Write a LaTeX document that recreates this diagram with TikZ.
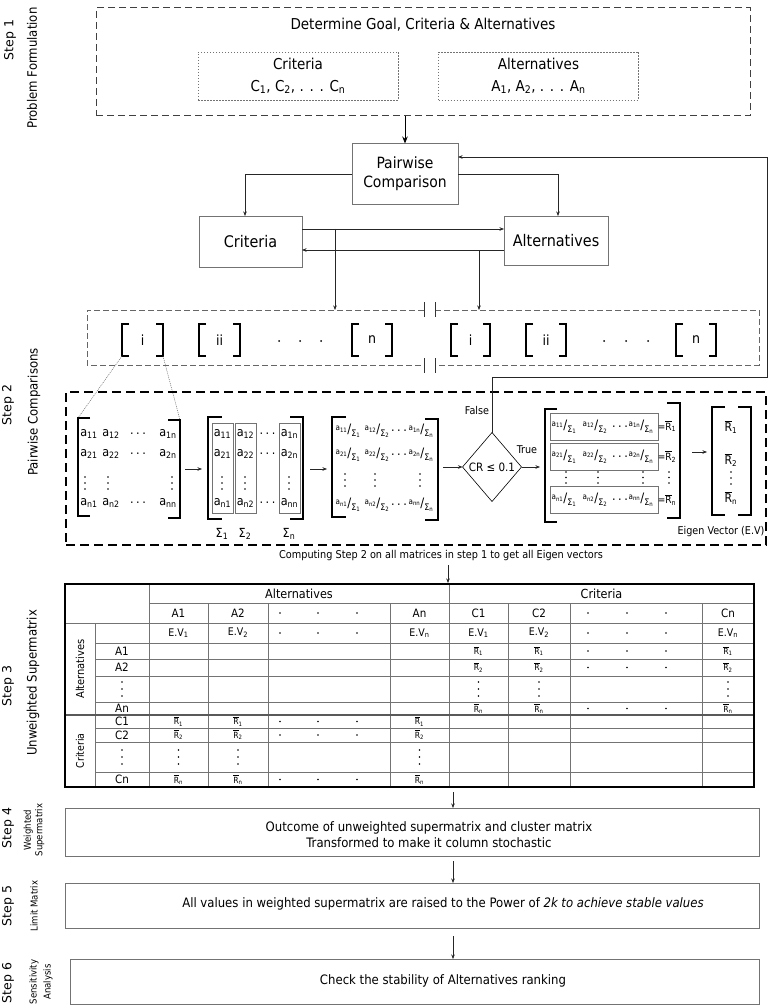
\documentclass[tikz,border=0pt]{standalone}
\usepackage{fontspec}
\setmainfont{DejaVu Sans Condensed}
\newfontfamily\vfont{DejaVu Sans}
\usetikzlibrary{arrows.meta,shapes.geometric,calc}
\newcommand\fsz[1]{\fontsize{#1}{#1}\selectfont}
\newcommand\fszl[2]{\fontsize{#1}{#2}\selectfont}
\newcommand\Rb[1]{$\overline{\hbox{R}}$\textsubscript{#1}}
\newcommand\afr[2]{\raisebox{3pt}{\fsz{8}a\textsubscript{#1}}{\fsz{13}/}\raisebox{-3pt}{\fsz{9}Σ\textsubscript{#2}}}
\newcommand\hd{.\kern2.5pt.\kern2.5pt.}
\newcommand\LB[4]{\draw[brk] ({#1+#4},#2) -- (#1,#2) -- (#1,#3) -- ({#1+#4},#3);}
\newcommand\RB[4]{\draw[brk] ({#1-#4},#2) -- (#1,#2) -- (#1,#3) -- ({#1-#4},#3);}
\newcommand\vdd[3]{\fill (#1,#2) circle (0.8pt) (#1,{#2+#3}) circle (0.8pt) (#1,{#2+2*#3}) circle (0.8pt);}
\newcommand\grp[4]{\draw[brk] ({#1+7},324) -- (#1,324) -- (#1,356) -- ({#1+7},356);
  \draw[brk] ({#2-7},324) -- (#2,324) -- (#2,356) -- ({#2-7},356);
  \node[font=\fsz{14}] (#4) at ({(#1+#2)/2},340) {#3};}
\begin{document}
\begin{tikzpicture}[x=1pt,y=-1pt,
  every node/.style={inner sep=0pt,outer sep=0pt},
  steplbl/.style={rotate=90,font=\vfont\fsz{12.5}},
  sublbl/.style={rotate=90,font=\fszl{13}{13},align=center},
  gbox/.style={draw=black!55,line width=0.8pt,fill=white},
  dashA/.style={draw=black!75,line width=1pt,dash pattern=on 7pt off 4pt},
  dotbox/.style={draw=black!55,line width=0.6pt,dash pattern=on 1.5pt off 1.5pt},
  dashB/.style={draw=black!60,line width=0.8pt,dash pattern=on 6pt off 3pt},
  dashC/.style={draw=black,line width=1.2pt,dash pattern=on 9pt off 5pt},
  ar/.style={-{Stealth[length=4.5pt,width=3.5pt]},line width=0.5pt,draw=black!85},
  bigar/.style={-{Stealth[length=7pt,width=5.5pt]},line width=0.8pt,draw=black},
  thinl/.style={line width=0.6pt,draw=black!80},
  brk/.style={line width=2.8pt,line cap=butt},
  dotl/.style={line width=0.5pt,draw=black!60,dash pattern=on 1pt off 1pt},
  colbox/.style={draw=black!55,line width=0.6pt},
  grid/.style={line width=0.6pt,draw=black!55},
  me/.style={font=\fsz{12.5}},
  th/.style={font=\fsz{12.5}},
  tc/.style={font=\fsz{11.5}},
  tr/.style={font=\fsz{8.5}},
]
\useasboundingbox (0,0) rectangle (768,1008);

% ---------------- left labels
\node[steplbl] (s1) at (10,40) {Step 1};
\node[sublbl] (s1b) at (32,68) {Problem Formulation};
\node[steplbl] (s2) at (8,405) {Step 2};
\node[sublbl] (s2b) at (34,412) {Pairwise Comparisons};
\node[steplbl] (s3) at (8,686) {Step 3};
\node[sublbl] (s3b) at (33,683) {Unweighted Supermatrix};
\node[steplbl] (s4) at (8,828) {Step 4};
\node[sublbl,font=\fszl{9.5}{11.5}] (s4b) at (34,830) {Weighted\\Supermatrix};
\node[steplbl] (s5) at (8,906) {Step 5};
\node[sublbl,font=\fsz{9.5}] (s5b) at (34,906) {Limit Matrix};
\node[steplbl] (s6) at (8,983) {Step 6};
\node[sublbl,font=\fszl{9.5}{14}] (s6b) at (41,982) {Sensitivity\\Analysis};

% ---------------- Step 1
\node[dashA,minimum width=654pt,minimum height=108pt] (p1) at (423,62) {};
\node[font=\fsz{15}] (goal) at (423,25) {Determine Goal, Criteria \& Alternatives};
\node[dotbox,minimum width=200pt,minimum height=48pt] (cbox) at (298,76) {};
\node[font=\fsz{15}] (ct) at (298,64) {Criteria};
\node[font=\fsz{15}] (cl) at (298,87) {C\textsubscript{1}, C\textsubscript{2}, . . . C\textsubscript{n}};
\node[dotbox,minimum width=200pt,minimum height=48pt] (abox) at (538.5,76) {};
\node[font=\fsz{15}] (at) at (538.5,64) {Alternatives};
\node[font=\fsz{15}] (al) at (538.5,87) {A\textsubscript{1}, A\textsubscript{2}, . . . A\textsubscript{n}};

% ---------------- Pairwise comparison
\node[gbox,minimum width=106pt,minimum height=61pt,align=center,font=\fszl{15.5}{19}] (pw) at (405,174) {Pairwise\\Comparison};
\node[gbox,minimum width=103pt,minimum height=51pt,font=\fsz{16}] (crit) at (250.5,241.5) {Criteria};
\node[gbox,minimum width=104pt,minimum height=49pt,font=\fsz{16}] (alt) at (556,240.5) {Alternatives};
\draw[bigar] (pw.north |- p1.south) -- (pw.north);
\draw[ar] (pw.west) -| ([xshift=-5.5pt]crit.north);
\draw[ar] (pw.east) -| ([xshift=2pt]alt.north);
\draw[ar] ([yshift=12.5pt]crit.east) -- ([yshift=12.5pt]crit.east -| alt.west);
\draw[ar] ([yshift=-9.5pt]alt.west) -- ([yshift=-9.5pt]alt.west -| crit.east);
\coordinate (j1) at (335,229);
\coordinate (mt1) at (335,310);
\coordinate (j2) at (479,250);
\coordinate (mt2) at (479,310);
\draw[ar] (j1) -- (mt1);
\draw[ar] (j2) -- (mt2);

% ---------------- matrices of step 1
\draw[dashB] (424,310) -- (87,310) -- (87,365) -- (424,365);
\draw[dashB] (435,310) -- (759,310) -- (759,365) -- (435,365);
\draw[thinl] (424,302) -- (424,317) (435,302) -- (435,317) (424,358) -- (424,373) (435,358) -- (435,373);
\grp{122}{163}{i}{gL1}
\grp{199}{240}{ii}{gL2}
\grp{352}{392}{n}{gL3}
\grp{451}{490}{i}{gR1}
\grp{526}{566}{ii}{gR2}
\grp{676}{716}{n}{gR3}
\foreach \x in {279,300,321,604,626,648} \fill (\x,341) circle (1pt);
\coordinate (zA) at (122,356);
\coordinate (zB) at (163,356);
\coordinate (zC) at (78,418);
\coordinate (zD) at (180,420);
\draw[dotl] (zA) -- (zC);
\draw[dotl] (zB) -- (zD);

% ---------------- Step 2 box
\node[dashC,minimum width=700pt,minimum height=153pt] (p2) at (416,468.5) {};

% matrix 1
\LB{78}{418}{516}{12}
\RB{180}{420}{518}{12}
\foreach \y/\r in {434/1,454/2,503/n} {
  \node[me] (m1a\r) at (89,\y) {a\textsubscript{\r 1}};
  \node[me] (m1b\r) at (111,\y) {a\textsubscript{\r 2}};
  \node[me] (m1c\r) at (138,\y) {\hd};
  \node[me] (m1d\r) at (168,\y) {a\textsubscript{\r n}};
}
\vdd{85}{477}{6}\vdd{108}{477}{6}\vdd{172}{477}{6}

% matrix 2
\LB{208}{417}{519}{14}
\RB{303}{417}{519}{13}
\draw[colbox] (212,423) rectangle (233,513) (235,423) rectangle (256,513) (279,423) rectangle (300,513);
\foreach \y/\r in {434/1,454/2,503/n} {
  \node[me] (m2a\r) at (222.5,\y) {a\textsubscript{\r 1}};
  \node[me] (m2b\r) at (245.5,\y) {a\textsubscript{\r 2}};
  \node[me] (m2c\r) at (267.5,\y) {\hd};
  \node[me] (m2d\r) at (289.5,\y) {a\textsubscript{\r n}};
}
\vdd{222}{477}{6}\vdd{245}{477}{6}\vdd{289}{477}{6}
\node[me] (sg1) at (222,534) {Σ\textsubscript{1}};
\node[me] (sg2) at (245,534) {Σ\textsubscript{2}};
\node[me] (sgn) at (289,534) {Σ\textsubscript{n}};

% matrix 3
\LB{332}{417}{517}{14}
\RB{438}{419}{520}{13}
\foreach \y/\r in {431/1,455/2,505/n} {
  \node (m3a\r) at (348,\y) {\afr{\r 1}{1}};
  \node (m3b\r) at (377,\y) {\afr{\r 2}{2}};
  \node[me] (m3c\r) at (399,\y) {\hd};
  \node (m3d\r) at (421,\y) {\afr{\r n}{n}};
}
\vdd{345}{474}{6}\vdd{375}{474}{6}\vdd{420}{474}{6}

% CR diamond
\node[diamond,draw,line width=0.6pt,aspect=0.85,minimum width=59pt,minimum height=69pt,font=\fsz{11.5}] (crd) at (492,467) {CR ≤ 0.1};
\node[font=\fsz{10.7}] (fl) at (477,411) {False};
\node[font=\fsz{10.7}] (tl) at (527,450) {True};

% matrix 4
\LB{545}{409}{522}{12}
\RB{680}{403}{518}{13}
\foreach \y/\r/\n in {426.5/1/1,456.5/2/2,500/n/3} {
  \node[draw=black!55,line width=0.6pt,minimum width=108pt,minimum height=27pt] (rb\n) at (604,\y) {};
  \node (m4a\r) at (564,\y) {\afr{\r 1}{1}};
  \node (m4b\r) at (595,\y) {\afr{\r 2}{2}};
  \node[me] (m4c\r) at (620,\y) {\hd};
  \node (m4d\r) at (641,\y) {\afr{\r n}{n}};
  \node[font=\fsz{10}] (m4e\r) at (667,\y) {=\Rb{\r}};
}
\vdd{566}{472}{5.5}\vdd{598}{472}{5.5}\vdd{643}{472}{5.5}\vdd{669}{472}{5.5}

% matrix 5
\LB{712}{407}{515}{13}
\RB{751}{407}{515}{13}
\node[font=\fsz{12}] (e1) at (731,427) {\Rb{1}};
\node[font=\fsz{12}] (e2) at (731,460) {\Rb{2}};
\vdd{731}{472}{6}
\node[font=\fsz{12}] (en) at (731,498) {\Rb{n}};
\node[font=\fsz{10.7}] (ev) at (721,532) {Eigen Vector (E.V)};

% arrows in step 2
\coordinate (q1) at (185,469); \coordinate (q2) at (202,469);
\coordinate (q3) at (310,469); \coordinate (q4) at (327,469);
\coordinate (q5) at (443,467);
\coordinate (q6) at (540,467);
\coordinate (q7) at (692,452); \coordinate (q8) at (707,452);
\draw[ar] (q1) -- (q2);
\draw[ar] (q3) -- (q4);
\draw[ar] (q5) -- (crd.west);
\draw[ar] (crd.east) -- (q6);
\draw[ar] (q7) -- (q8);
\coordinate (fba) at (767,377);
\coordinate (fbb) at (767,157);
\draw[ar] (crd.north) |- (fba) -- (fbb) -- (fbb -| pw.east);

% ---------------- computing text
\node[font=\fsz{10.8}] (comp) at (441,556) {Computing Step 2 on all matrices in step 1 to get all Eigen vectors};
\coordinate (ca) at (448,565);
\coordinate (tabtop) at (448,583);
\draw[ar] (ca) -- (tabtop);

% ---------------- table
\draw[grid] (149,603) -- (754,603);
\draw[grid] (65,623) -- (754,623);
\foreach \yy in {643,659,676,702,728,742,772} \draw[grid] (95,\yy) -- (754,\yy);
\draw[grid] (95,623) -- (95,787);
\foreach \xx in {149,449} \draw[grid] (\xx,584) -- (\xx,787);
\foreach \xx in {208,268,390,508,570,702} \draw[grid] (\xx,603) -- (\xx,787);
\draw[line width=1.5pt,draw=black!65] (65,715) -- (754,715);
\draw[line width=1.8pt] (65,584) rectangle (754,787);

\node[th] (thA) at (299,593.5) {Alternatives};
\node[th] (thC) at (601.5,593.5) {Criteria};
\foreach \x/\t [count=\i] in {178.5/A1,238/A2,419.5/An,478.5/C1,539/C2,728/Cn}
  \node[tc] (col\i) at (\x,613) {\t};
\foreach \x/\t [count=\i] in {178.5/1,238/2,419.5/n,478.5/1,539/2,728/n}
  \node[font=\fsz{10.5}] (evc\i) at (\x,633) {E.V\textsubscript{\t}};
\foreach \x [count=\i] in {280,318,357,588,627,666} {
  \fill (\x,613) circle (0.9pt);
  \fill (\x,633) circle (0.9pt);
}
\foreach \y/\t [count=\i] in {651/A1,667.5/A2,708.5/An,721.5/C1,735/C2,779.5/Cn}
  \node[tc] (rl\i) at (122,\y) {\t};
\vdd{122}{682}{7}
\vdd{122}{750}{7}
\node[rotate=90,font=\fsz{11}] (ra) at (80,669) {Alternatives};
\node[rotate=90,font=\fsz{10.5}] (rc) at (80,751) {Criteria};
% criteria columns in alternative rows
\foreach \x [count=\i] in {478.5,539,728} {
  \node[tr] (ca1\i) at (\x,651) {\Rb{1}};
  \node[tr] (ca2\i) at (\x,667.5) {\Rb{2}};
  \node[tr] (can\i) at (\x,708.5) {\Rb{n}};
  \vdd{\x}{682}{7}
}
\foreach \x in {588,627,666} {
  \fill (\x,651) circle (0.9pt);
  \fill (\x,667.5) circle (0.9pt);
  \fill (\x,708.5) circle (0.9pt);
}
% alternative columns in criteria rows
\foreach \x [count=\i] in {178.5,238,419.5} {
  \node[tr] (ac1\i) at (\x,721.5) {\Rb{1}};
  \node[tr] (ac2\i) at (\x,735) {\Rb{2}};
  \node[tr] (acn\i) at (\x,779.5) {\Rb{n}};
  \vdd{\x}{750}{7}
}
\foreach \x in {280,318,357} {
  \fill (\x,721.5) circle (0.9pt);
  \fill (\x,735) circle (0.9pt);
  \fill (\x,779.5) circle (0.9pt);
}

% ---------------- steps 4-6
\node[gbox,minimum width=694pt,minimum height=48pt] (b4) at (412,832) {};
\node[font=\fszl{13}{16},align=center] (t4) at (429,835) {Outcome of unweighted supermatrix and cluster matrix\\Transformed to make it column stochastic};
\node[gbox,minimum width=694pt,minimum height=45pt] (b5) at (412,905.5) {};
\node[font=\fsz{13}] (t5) at (443,904) {All values in weighted supermatrix are raised to the Power of \textit{2k to achieve stable values}};
\node[gbox,minimum width=689pt,minimum height=45pt] (b6) at (414.5,981.5) {};
\node[font=\fsz{13}] (t6) at (443,981) {Check the stability of Alternatives ranking};
\coordinate (a4s) at (453,792);
\coordinate (a5s) at (453,861);
\coordinate (a6s) at (453,936);
\draw[ar] (a4s) -- (a4s |- b4.north);
\draw[ar] (a5s) -- (a5s |- b5.north);
\draw[ar] (a6s) -- (a6s |- b6.north);
\end{tikzpicture}
\end{document}
